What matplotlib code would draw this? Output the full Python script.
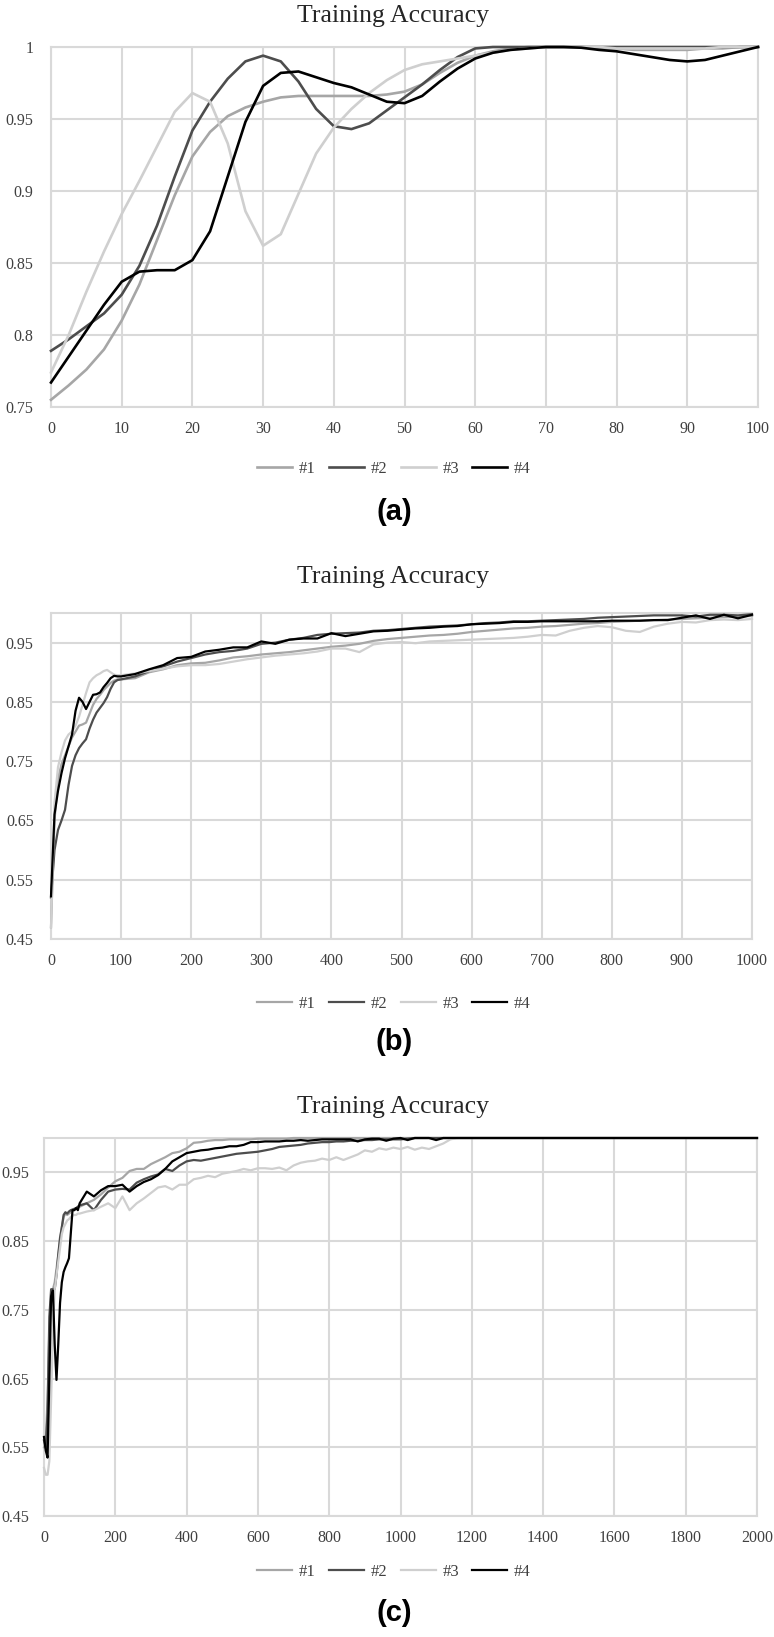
import numpy as np
import matplotlib
matplotlib.use('Agg')
import matplotlib.pyplot as plt

# ------------------------------ Data -----------------------------------

series_names = ['#1', '#2', '#3', '#4']
series_colors = ['#a6a6a6', '#4d4d4d', '#cfcfcf', '#000000']

# panel (a): 100 epochs, read every 2.5 epochs
epochs_a = np.arange(0, 100.1, 2.5)
acc_a_1 = [0.755, 0.765, 0.776, 0.790, 0.810, 0.835, 0.866, 0.897, 0.924, 0.941,
           0.952, 0.958, 0.962, 0.965, 0.966, 0.966, 0.966, 0.966, 0.966, 0.967,
           0.969, 0.974, 0.982, 0.989, 0.994, 0.997, 0.999, 1.000, 1.000, 1.000,
           1.000, 0.999, 0.999, 0.998, 0.998, 0.998, 0.998, 0.999, 0.999, 1.000, 1.000]
acc_a_2 = [0.789, 0.797, 0.806, 0.815, 0.828, 0.848, 0.876, 0.910, 0.942, 0.962,
           0.978, 0.990, 0.994, 0.990, 0.976, 0.957, 0.945, 0.943, 0.947, 0.956,
           0.965, 0.974, 0.984, 0.993, 0.999, 1.000, 1.000, 1.000, 1.000, 1.000,
           1.000, 1.000, 1.000, 1.000, 1.000, 1.000, 1.000, 1.000, 1.000, 1.000, 1.000]
acc_a_3 = [0.774, 0.800, 0.830, 0.858, 0.884, 0.907, 0.931, 0.955, 0.968, 0.962,
           0.933, 0.886, 0.862, 0.870, 0.898, 0.926, 0.944, 0.957, 0.968, 0.977,
           0.984, 0.988, 0.990, 0.992, 0.994, 0.996, 0.998, 0.999, 1.000, 1.000,
           1.000, 1.000, 0.999, 0.999, 0.999, 0.999, 0.999, 0.999, 1.000, 1.000, 1.000]
acc_a_4 = [0.767, 0.785, 0.803, 0.821, 0.837, 0.844, 0.845, 0.845, 0.852, 0.872,
           0.910, 0.948, 0.973, 0.982, 0.983, 0.979, 0.975, 0.972, 0.967, 0.962,
           0.961, 0.966, 0.976, 0.985, 0.992, 0.996, 0.998, 0.999, 1.000, 1.000,
           0.9995, 0.998, 0.997, 0.995, 0.993, 0.991, 0.990, 0.991, 0.994, 0.997, 1.000]

# panel (b): 1000 epochs, every 5 up to 100 then every 20
epochs_b = np.concatenate([np.arange(0, 101, 5), np.arange(120, 1001, 20)])
acc_b_1 = [0.470, 0.650, 0.720, 0.745, 0.760, 0.775, 0.790, 0.800, 0.810, 0.812,
           0.815, 0.830, 0.845, 0.855, 0.862, 0.870, 0.876, 0.882, 0.886, 0.888, 0.888,
           0.890, 0.900, 0.905, 0.912, 0.915, 0.916, 0.920, 0.925, 0.927, 0.930,
           0.932, 0.934, 0.937, 0.940, 0.943, 0.945, 0.948, 0.953, 0.956, 0.958,
           0.960, 0.962, 0.963, 0.965, 0.968, 0.970, 0.972, 0.974, 0.975, 0.977,
           0.978, 0.980, 0.982, 0.983, 0.985, 0.986, 0.987, 0.988, 0.989, 0.990,
           0.991, 0.992, 0.993, 0.994, 0.995]
acc_b_2 = [0.520, 0.600, 0.634, 0.650, 0.668, 0.710, 0.742, 0.760, 0.772, 0.780,
           0.787, 0.805, 0.820, 0.832, 0.840, 0.848, 0.858, 0.872, 0.883, 0.887, 0.888,
           0.893, 0.902, 0.910, 0.918, 0.924, 0.930, 0.934, 0.936, 0.940, 0.948,
           0.950, 0.955, 0.958, 0.963, 0.965, 0.966, 0.967, 0.970, 0.971, 0.973,
           0.975, 0.977, 0.978, 0.979, 0.981, 0.983, 0.984, 0.986, 0.986, 0.987,
           0.988, 0.989, 0.990, 0.992, 0.993, 0.994, 0.995, 0.996, 0.996, 0.996,
           0.994, 0.997, 0.997, 0.996, 0.998]
acc_b_3 = [0.470, 0.680, 0.740, 0.765, 0.785, 0.795, 0.800, 0.810, 0.825, 0.845,
           0.865, 0.883, 0.890, 0.895, 0.898, 0.902, 0.904, 0.900, 0.896, 0.895, 0.895,
           0.898, 0.902, 0.906, 0.910, 0.912, 0.912, 0.914, 0.918, 0.922, 0.925,
           0.928, 0.930, 0.932, 0.935, 0.940, 0.940, 0.934, 0.947, 0.950, 0.951,
           0.949, 0.952, 0.953, 0.954, 0.955, 0.956, 0.957, 0.958, 0.960, 0.963,
           0.962, 0.970, 0.975, 0.978, 0.976, 0.970, 0.968, 0.977, 0.982, 0.985,
           0.984, 0.988, 0.989, 0.988, 0.990]
acc_b_4 = [0.522, 0.660, 0.700, 0.730, 0.755, 0.775, 0.795, 0.835, 0.857, 0.850,
           0.838, 0.850, 0.862, 0.863, 0.866, 0.875, 0.882, 0.890, 0.894, 0.893, 0.893,
           0.897, 0.905, 0.912, 0.924, 0.926, 0.935, 0.938, 0.942, 0.942, 0.952,
           0.948, 0.955, 0.957, 0.957, 0.966, 0.961, 0.965, 0.969, 0.970, 0.972,
           0.974, 0.975, 0.977, 0.978, 0.981, 0.982, 0.983, 0.985, 0.985, 0.986,
           0.986, 0.986, 0.986, 0.986, 0.987, 0.987, 0.987, 0.988, 0.988, 0.992,
           0.996, 0.990, 0.997, 0.991, 0.997]

# panel (c): 2000 epochs, every 5 up to 100, every 20 up to 1200, then every 100
epochs_c = np.concatenate([np.arange(0, 101, 5), np.arange(120, 1201, 20),
                           np.arange(1300, 2001, 100)])
acc_c_1 = [0.550, 0.560, 0.620, 0.720, 0.770, 0.780, 0.790, 0.810, 0.830, 0.850,
           0.870, 0.885, 0.890, 0.888, 0.890, 0.892, 0.895, 0.895, 0.897, 0.900, 0.900,
           0.905, 0.910, 0.918, 0.928, 0.937, 0.942, 0.952, 0.955, 0.955, 0.962,
           0.967, 0.972, 0.978, 0.980, 0.985, 0.993, 0.994, 0.996, 0.997, 0.997,
           0.998, 0.998, 0.998, 0.998, 0.999, 0.999, 0.999, 0.999, 0.999, 1.000,
           1.000, 1.000, 1.000, 1.000, 1.000, 1.000, 1.000, 1.000, 1.000, 1.000,
           1.000, 1.000, 1.000, 1.000, 1.000, 1.000, 1.000, 1.000, 1.000, 1.000,
           1.000, 1.000, 1.000, 1.000, 1.000,
           1.000, 1.000, 1.000, 1.000, 1.000, 1.000, 1.000, 1.000]
acc_c_2 = [0.560, 0.550, 0.600, 0.740, 0.780, 0.780, 0.780, 0.800, 0.830, 0.855,
           0.870, 0.888, 0.892, 0.890, 0.893, 0.895, 0.896, 0.897, 0.898, 0.900, 0.902,
           0.905, 0.895, 0.910, 0.922, 0.925, 0.926, 0.925, 0.935, 0.940, 0.944,
           0.947, 0.955, 0.952, 0.960, 0.966, 0.968, 0.967, 0.969, 0.971, 0.973,
           0.975, 0.977, 0.978, 0.979, 0.980, 0.982, 0.984, 0.987, 0.988, 0.989,
           0.990, 0.992, 0.993, 0.994, 0.994, 0.995, 0.995, 0.996, 0.996, 0.997,
           0.997, 0.998, 0.998, 0.998, 0.998, 0.999, 1.000, 1.000, 1.000, 1.000,
           1.000, 1.000, 1.000, 1.000, 1.000,
           1.000, 1.000, 1.000, 1.000, 1.000, 1.000, 1.000, 1.000]
acc_c_3 = [0.520, 0.510, 0.510, 0.530, 0.620, 0.720, 0.780, 0.800, 0.820, 0.840,
           0.860, 0.870, 0.875, 0.880, 0.882, 0.885, 0.887, 0.888, 0.888, 0.890, 0.890,
           0.893, 0.895, 0.900, 0.905, 0.898, 0.915, 0.895, 0.905, 0.912, 0.920,
           0.928, 0.930, 0.925, 0.932, 0.932, 0.940, 0.942, 0.945, 0.943, 0.948,
           0.950, 0.952, 0.955, 0.953, 0.956, 0.956, 0.955, 0.957, 0.953, 0.960,
           0.964, 0.966, 0.967, 0.970, 0.968, 0.972, 0.968, 0.972, 0.976, 0.982,
           0.980, 0.985, 0.983, 0.986, 0.984, 0.987, 0.983, 0.986, 0.984, 0.988,
           0.992, 0.998, 1.000, 1.000, 1.000,
           1.000, 1.000, 1.000, 1.000, 1.000, 1.000, 1.000, 1.000]
acc_c_4 = [0.565, 0.545, 0.535, 0.650, 0.770, 0.778, 0.700, 0.648, 0.700, 0.760,
           0.790, 0.805, 0.812, 0.818, 0.825, 0.860, 0.895, 0.895, 0.898, 0.895, 0.905,
           0.922, 0.915, 0.924, 0.930, 0.930, 0.932, 0.922, 0.930, 0.936, 0.940,
           0.946, 0.955, 0.966, 0.972, 0.978, 0.980, 0.982, 0.983, 0.985, 0.986,
           0.988, 0.988, 0.990, 0.994, 0.994, 0.995, 0.995, 0.995, 0.996, 0.996,
           0.997, 0.996, 0.997, 0.998, 0.998, 0.998, 0.998, 0.998, 0.995, 0.998,
           0.999, 0.999, 0.996, 0.999, 1.000, 0.997, 1.000, 1.000, 1.000, 0.997,
           1.000, 1.000, 1.000, 1.000, 1.000,
           1.000, 1.000, 1.000, 1.000, 1.000, 1.000, 1.000, 1.000]

yticks_a = [0.75, 0.8, 0.85, 0.9, 0.95, 1.0]
ytick_labels_a = ['0.75', '0.8', '0.85', '0.9', '0.95', '1']
yticks_bc = [0.45, 0.55, 0.65, 0.75, 0.85, 0.95]
ytick_labels_bc = ['0.45', '0.55', '0.65', '0.75', '0.85', '0.95']

# ------------------------------ Plotting -----------------------------------

W, H = 774, 1637
fig = plt.figure(figsize=(W / 100, H / 100), dpi=100)

SERIF = 'Liberation Serif'
GRID = '#d9d9d9'


def px_box(l, t, r, b):
    return [l / W, 1 - b / H, (r - l) / W, (b - t) / H]


def draw_panel(box, epochs, series, xlim, xticks, ylim, yticks, ylabels,
               title_y, legend_y, letter, letter_y, lw, ypad):
    ax = fig.add_axes(px_box(*box))
    for vals, name, col in zip(series, series_names, series_colors):
        ax.plot(epochs, vals, color=col, lw=lw, label=name, clip_on=False,
                solid_joinstyle='round', zorder=3)
    ax.set_xlim(*xlim)
    ax.set_ylim(*ylim)
    ax.set_xticks(xticks)
    ax.set_xticklabels([str(t) for t in xticks])
    ax.set_yticks(yticks)
    ax.set_yticklabels(ylabels)
    ax.grid(True, color=GRID, lw=1.5, zorder=0)
    ax.set_axisbelow(True)
    for s in ax.spines.values():
        s.set_color(GRID)
        s.set_linewidth(1.5)
    ax.tick_params(axis='both', length=0, labelsize=11.5, labelcolor='#404040')
    ax.tick_params(axis='x', pad=10)
    ax.tick_params(axis='y', pad=ypad)
    for lab in ax.get_xticklabels() + ax.get_yticklabels():
        lab.set_fontfamily(SERIF)

    fig.text(393 / W, 1 - title_y / H, 'Training Accuracy', ha='center',
             va='baseline', fontsize=18.5, family=SERIF, color='#262626')
    ax.legend(loc='center', bbox_to_anchor=(394 / W, 1 - legend_y / H),
              bbox_transform=fig.transFigure, ncol=4, frameon=False,
              prop={'family': SERIF, 'size': 12}, handlelength=2.1,
              handletextpad=0.4, columnspacing=0.8, labelcolor='#404040')
    fig.text(394 / W, 1 - letter_y / H, letter, ha='center', va='center',
             fontsize=21, fontweight='bold', family='Liberation Sans')
    return ax


draw_panel((51, 47, 758, 407), epochs_a, [acc_a_1, acc_a_2, acc_a_3, acc_a_4],
           (0, 100), list(range(0, 101, 10)), (0.75, 1.0), yticks_a, ytick_labels_a,
           22, 469, '(a)', 512, 1.9, 12.5)

draw_panel((51, 613, 752, 939), epochs_b, [acc_b_1, acc_b_2, acc_b_3, acc_b_4],
           (0, 1000), list(range(0, 1001, 100)), (0.45, 1.0), yticks_bc, ytick_labels_bc,
           583, 1004, '(b)', 1042, 1.6, 12.5)

draw_panel((44, 1138, 757, 1516), epochs_c, [acc_c_1, acc_c_2, acc_c_3, acc_c_4],
           (0, 2000), list(range(0, 2001, 200)), (0.45, 1.0), yticks_bc, ytick_labels_bc,
           1113, 1572, '(c)', 1613, 1.6, 10.5)

plt.savefig('out.png', dpi=100)
